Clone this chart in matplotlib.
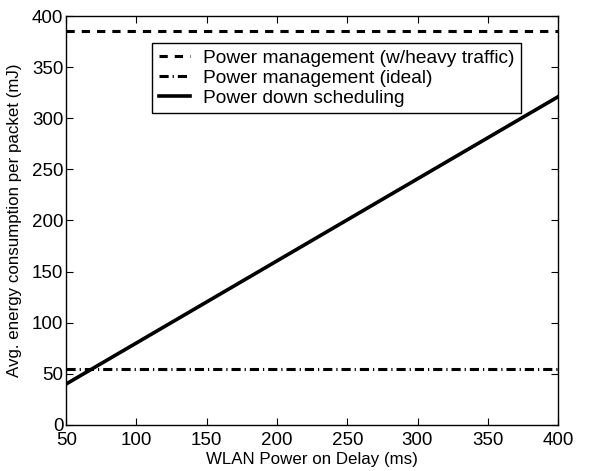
import numpy as np
import matplotlib.pyplot as plt

plt.rcParams['font.family'] = ['Liberation Sans', 'DejaVu Sans']

# power-on delay (ms) and energy per packet (mJ)
delay = [50, 400]
pm_heavy = [385, 385]
pm_ideal = [55, 55]
pd_sched = [40, 321]

xticks = [50, 100, 150, 200, 250, 300, 350, 400]
yticks = [0, 50, 100, 150, 200, 250, 300, 350, 400]

fs_tick = 13.5
fs_label = 12.2
fs_leg = 13.8

fig = plt.figure(figsize=(6.02, 4.71), dpi=100)
ax = fig.add_axes([0.110, 0.098, 0.817, 0.868])

ax.plot(delay, pm_heavy, color='k', lw=2.2, ls=(0, (2.7, 2.3)),
        label='Power management (w/heavy traffic)')
ax.plot(delay, pm_ideal, color='k', lw=2.2, ls=(0, (3, 1.3, 0.4, 1.3)),
        label='Power management (ideal)')
ax.plot(delay, pd_sched, color='k', lw=2.6, label='Power down scheduling')

ax.set_xlim(50, 400)
ax.set_ylim(0, 400)
ax.set_xticks(xticks)
ax.set_yticks(yticks)
ax.tick_params(axis='x', pad=5.5)
ax.tick_params(axis='y', pad=2)
ax.tick_params(direction='in', top=True, right=True, labelsize=fs_tick, length=5)
for s in ax.spines.values():
    s.set_linewidth(1.0)

ax.set_xlabel('WLAN Power on Delay (ms)', fontsize=fs_label, labelpad=1.5)
ax.set_ylabel('Avg. energy consumption per packet (mJ)', fontsize=fs_label, labelpad=7)

leg = ax.legend(loc='upper left', bbox_to_anchor=(0.175, 0.934), borderaxespad=0,
                fontsize=fs_leg, frameon=True, fancybox=False, edgecolor='k', framealpha=1,
                handlelength=1.6, borderpad=0.35, labelspacing=0.12, handletextpad=0.7)
leg.get_frame().set_linewidth(1.0)

fig.savefig('out.png', dpi=100)
